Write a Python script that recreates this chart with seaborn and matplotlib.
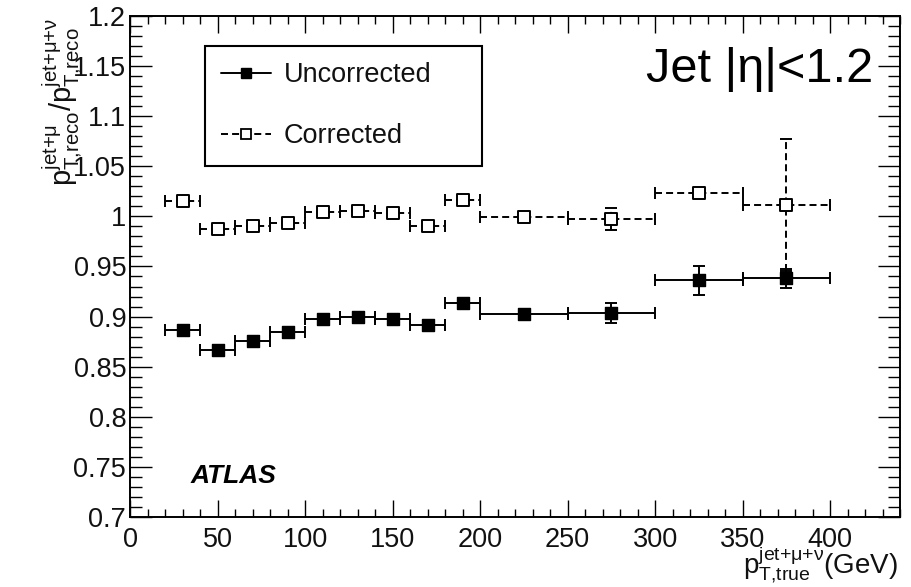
import matplotlib
matplotlib.use("Agg")
import matplotlib.pyplot as plt
import seaborn as sns
import pandas as pd
from matplotlib.ticker import MultipleLocator, FuncFormatter
from matplotlib.lines import Line2D

# Truth-level jet pT bins (GeV): centres and half-widths
pt_center = [30, 50, 70, 90, 110, 130, 150, 170, 190, 225, 275, 325, 375]
pt_halfwidth = [10, 10, 10, 10, 10, 10, 10, 10, 10, 25, 25, 25, 25]

# Response ratio before the muon/neutrino correction
ratio_uncorr = [0.887, 0.867, 0.876, 0.885, 0.898, 0.900, 0.898, 0.892,
                0.914, 0.903, 0.904, 0.936, 0.938]
err_uncorr = [0.003, 0.003, 0.003, 0.003, 0.003, 0.003, 0.003, 0.003,
              0.004, 0.003, 0.010, 0.014, 0.009]

# Response ratio after the correction
ratio_corr = [1.015, 0.987, 0.990, 0.993, 1.004, 1.005, 1.003, 0.990,
              1.016, 0.999, 0.997, 1.023, 1.011]
err_corr = [0.003, 0.003, 0.003, 0.003, 0.003, 0.003, 0.003, 0.003,
            0.003, 0.003, 0.011, 0.004, 0.066]

series_names = ["Uncorrected", "Corrected"]
region_label = "Jet |η|<1.2"
experiment_label = "ATLAS"

sns.set_theme(style="ticks")
plt.rcParams["font.family"] = ["Liberation Sans", "DejaVu Sans"]
plt.rcParams["mathtext.fontset"] = "custom"
plt.rcParams["mathtext.rm"] = "Liberation Sans"
plt.rcParams["mathtext.it"] = "Liberation Sans:italic"
plt.rcParams["mathtext.bf"] = "Liberation Sans:bold"

df = pd.DataFrame({
    "pt": pt_center + pt_center,
    "ratio": ratio_uncorr + ratio_corr,
    "series": [series_names[0]] * len(pt_center) + [series_names[1]] * len(pt_center),
})

fig = plt.figure(figsize=(9.12, 5.87), dpi=100)
ax = fig.add_axes([0.1429, 0.1193, 0.844, 0.8535])

dash = (0, (3.6, 2.1))

# Bin-width and statistical error bars
ax.errorbar(pt_center, ratio_uncorr, xerr=pt_halfwidth, yerr=err_uncorr,
            fmt="none", ecolor="black", elinewidth=1.4, capsize=4.5,
            capthick=1.4, zorder=2)
eb = ax.errorbar(pt_center, ratio_corr, xerr=pt_halfwidth, yerr=err_corr,
                 fmt="none", ecolor="black", elinewidth=1.4, capsize=4.5,
                 capthick=1.4, zorder=2)
for coll in eb[2]:
    coll.set_linestyle(dash)

# Markers
unc = df[df["series"] == series_names[0]]
cor = df[df["series"] == series_names[1]]
sns.scatterplot(data=unc, x="pt", y="ratio", marker="s", s=85,
                color="black", edgecolor="black", linewidth=1.0,
                legend=False, ax=ax, zorder=3)
sns.scatterplot(data=cor, x="pt", y="ratio", marker="s", s=85,
                color="white", edgecolor="black", linewidth=1.4,
                legend=False, ax=ax, zorder=3)

ax.set_xlim(0, 440)
ax.set_ylim(0.7, 1.2)
ax.set_xlabel("")
ax.set_ylabel("")

ax.xaxis.set_major_locator(MultipleLocator(50))
ax.xaxis.set_minor_locator(MultipleLocator(10))
ax.yaxis.set_major_locator(MultipleLocator(0.05))
ax.yaxis.set_minor_locator(MultipleLocator(0.01))
ax.yaxis.set_major_formatter(FuncFormatter(lambda v, p: f"{v:g}"))
ax.xaxis.set_major_formatter(FuncFormatter(lambda v, p: f"{v:g}"))

ax.tick_params(which="both", direction="in", top=True, right=True,
               width=1.0, color="black", labelsize=19.5, labelcolor="#111111")
ax.tick_params(axis="x", which="major", length=12, pad=7)
ax.tick_params(axis="x", which="minor", length=6)
ax.tick_params(axis="y", which="major", length=16, pad=3)
ax.tick_params(axis="y", which="minor", length=8.5)
for sp in ax.spines.values():
    sp.set_linewidth(1.4)
    sp.set_color("black")
    sp.set_visible(True)

# Axis titles
fig.text(84 / 912, 1 - 18 / 587,
         r"$\mathrm{p}_{\mathrm{T{,}reco}}^{\mathrm{jet{+}\mu}}/\mathrm{p}_{\mathrm{T{,}reco}}^{\mathrm{jet{+}\mu{+}\nu}}$",
         rotation=90, ha="right", va="top", fontsize=21, color="#111111")
fig.text(898 / 912, 1 / 587,
         r"$\mathrm{p}_{\mathrm{T{,}true}}^{\mathrm{jet{+}\mu{+}\nu}}$(GeV)",
         ha="right", va="bottom", fontsize=20, color="#111111")

# Annotations
ax.text(0.965, 0.868, region_label, transform=ax.transAxes, ha="right",
        va="baseline", fontsize=35, color="black")
ax.text(0.0776, 0.068, experiment_label, transform=ax.transAxes, ha="left",
        va="baseline", fontsize=19, fontweight="bold", fontstyle="italic",
        color="black")

handles = [
    Line2D([], [], color="black", marker="s", markersize=7, linestyle="-",
           linewidth=1.4, markerfacecolor="black"),
    Line2D([], [], color="black", marker="s", markersize=7, linestyle=dash,
           linewidth=1.4, markerfacecolor="white", markeredgewidth=1.3),
]
leg = ax.legend(handles, series_names, loc="upper left",
                bbox_to_anchor=(0.097, 0.940, 0.36, 0), mode="expand",
                borderaxespad=0, frameon=True, fancybox=False, shadow=False,
                framealpha=1, edgecolor="black", fontsize=19.5,
                handlelength=1.85, handletextpad=0.45, borderpad=0.6,
                labelspacing=1.3)
leg.get_frame().set_linewidth(1.5)
for t in leg.get_texts():
    t.set_color("#111111")

fig.savefig("out.png", dpi=100)
